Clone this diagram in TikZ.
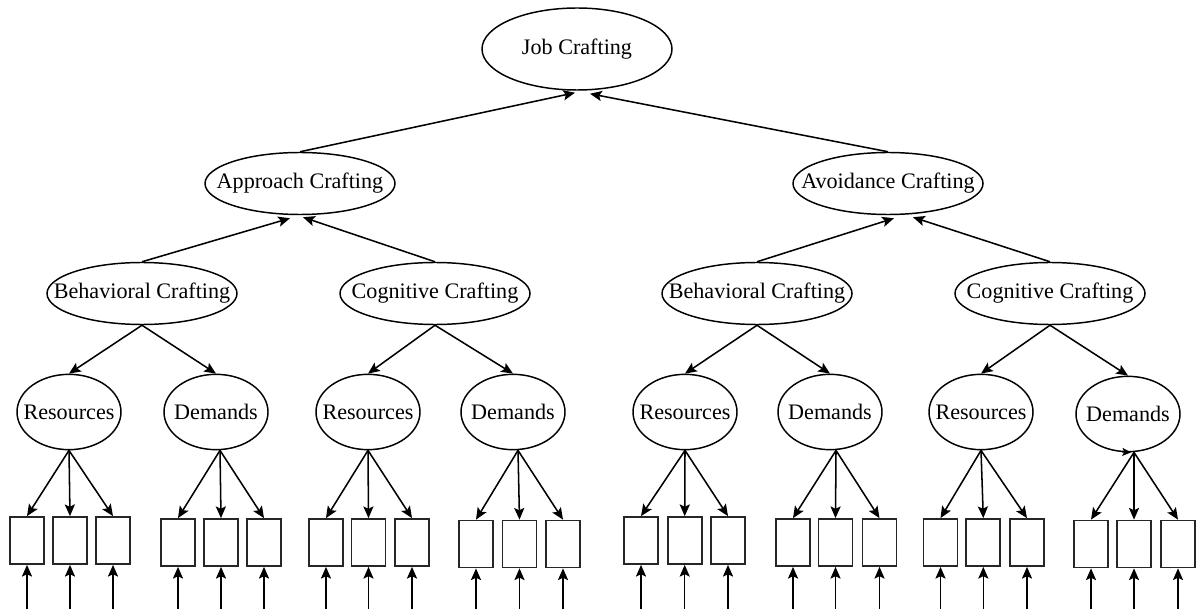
\documentclass[tikz,border=0pt]{standalone}
\usepackage{fontspec}
\setmainfont{Liberation Serif}
\usetikzlibrary{shapes.geometric,arrows.meta,calc}

\begin{document}
\begin{tikzpicture}[x=0.75pt,y=-0.75pt,
  lat/.style={ellipse, draw, line width=1.1pt, inner sep=0pt,
    font=\fontsize{16.6}{20}\selectfont},
  top/.style={lat, minimum width=142.5pt, minimum height=61.5pt},
  mid/.style={lat, minimum width=142.5pt, minimum height=46.5pt},
  low/.style={lat, minimum width=78pt, minimum height=56.5pt},
  obs/.style={rectangle, draw=black!85, line width=1.3pt, inner sep=0pt,
    minimum width=25.5pt, minimum height=35.25pt},
  arr/.style={line width=1.15pt, -{Stealth[length=8.8pt,width=7.6pt,inset=1.8pt]}}]

\useasboundingbox (0,0) rectangle (1198,609);

% latent factors
\node[top] (job) at (577,49) {\makebox[0pt]{Job Crafting}};
\node[mid] (ap) at (300,183.5) {\makebox[0pt]{Approach Crafting}};
\node[mid] (av) at (888,183.5) {\makebox[0pt]{Avoidance Crafting}};
\node[mid] (b1) at (142,293.5) {\makebox[0pt]{Behavioral Crafting}};
\node[mid] (c1) at (435,293.5) {\makebox[0pt]{Cognitive Crafting}};
\node[mid] (b2) at (757,293.5) {\makebox[0pt]{Behavioral Crafting}};
\node[mid] (c2) at (1050,293.5) {\makebox[0pt]{Cognitive Crafting}};
\node[low] (r1) at (69,412) {\makebox[0pt]{Resources}};
\node[low] (d1) at (216,412) {\makebox[0pt]{Demands}};
\node[low] (r2) at (368,412) {\makebox[0pt]{Resources}};
\node[low] (d2) at (513,412) {\makebox[0pt]{Demands}};
\node[low] (r3) at (685,412) {\makebox[0pt]{Resources}};
\node[low] (d3) at (830,412) {\makebox[0pt]{Demands}};
\node[low] (r4) at (981,412) {\makebox[0pt]{Resources}};
\node[low] (d4) at (1128,414) {\makebox[0pt]{Demands}};

% upper levels
\draw[arr] (ap.north) -- ($(job.south)+(-2,2)$);
\draw[arr] (av.north) -- ($(job.south)+(13,3)$);
\draw[arr] (b1.north) -- ($(ap.south)+(-10,3)$);
\draw[arr] (c1.north) -- ($(ap.south)+(3,2)$);
\draw[arr] (b2.north) -- ($(av.south)+(6,3)$);
\draw[arr] (c2.north) -- ($(av.south)+(25,2)$);

% second-order to first-order
\foreach \s/\a/\b in {b1/r1/d1, c1/r2/d2, b2/r3/d3, c2/r4/d4}{
  \draw[arr] (\s.south) -- (\a.north);
  \draw[arr] (\s.south) -- (\b.north);
}

% indicators with their error terms
\foreach \p/\y/\xa/\xb/\xc/\dx in {
    r1/540.5/27/70/113/0, d1/542.5/178/221/264/4,
    r2/542.5/326/368.5/412/0, d2/544/476/519.5/563/5,
    r3/540.5/641/684.7/728/0, d3/542.5/793/835.5/879.5/6,
    r4/542.5/940.5/983.3/1027/0, d4/544/1091/1134/1178/6}{
  \foreach \x [count=\i] in {\xa,\xb,\xc}{
    \node[obs] (\p-\i) at (\x,\y) {};
    \coordinate (\p-\i-e) at (\x,609);
    \draw[arr] ($(\p.south)+(\dx,0)$) -- (\p-\i.north);
    \draw[arr] (\p-\i-e) -- (\p-\i.south);
  }
}

% small stray head on the last factor
\draw[line width=1.1pt, -{Stealth[length=6.5pt,width=6pt,inset=1.4pt]}]
  ($(d4.south)+(-6,-0.5)$) -- ($(d4.south)+(3,0)$);

\end{tikzpicture}
\end{document}
